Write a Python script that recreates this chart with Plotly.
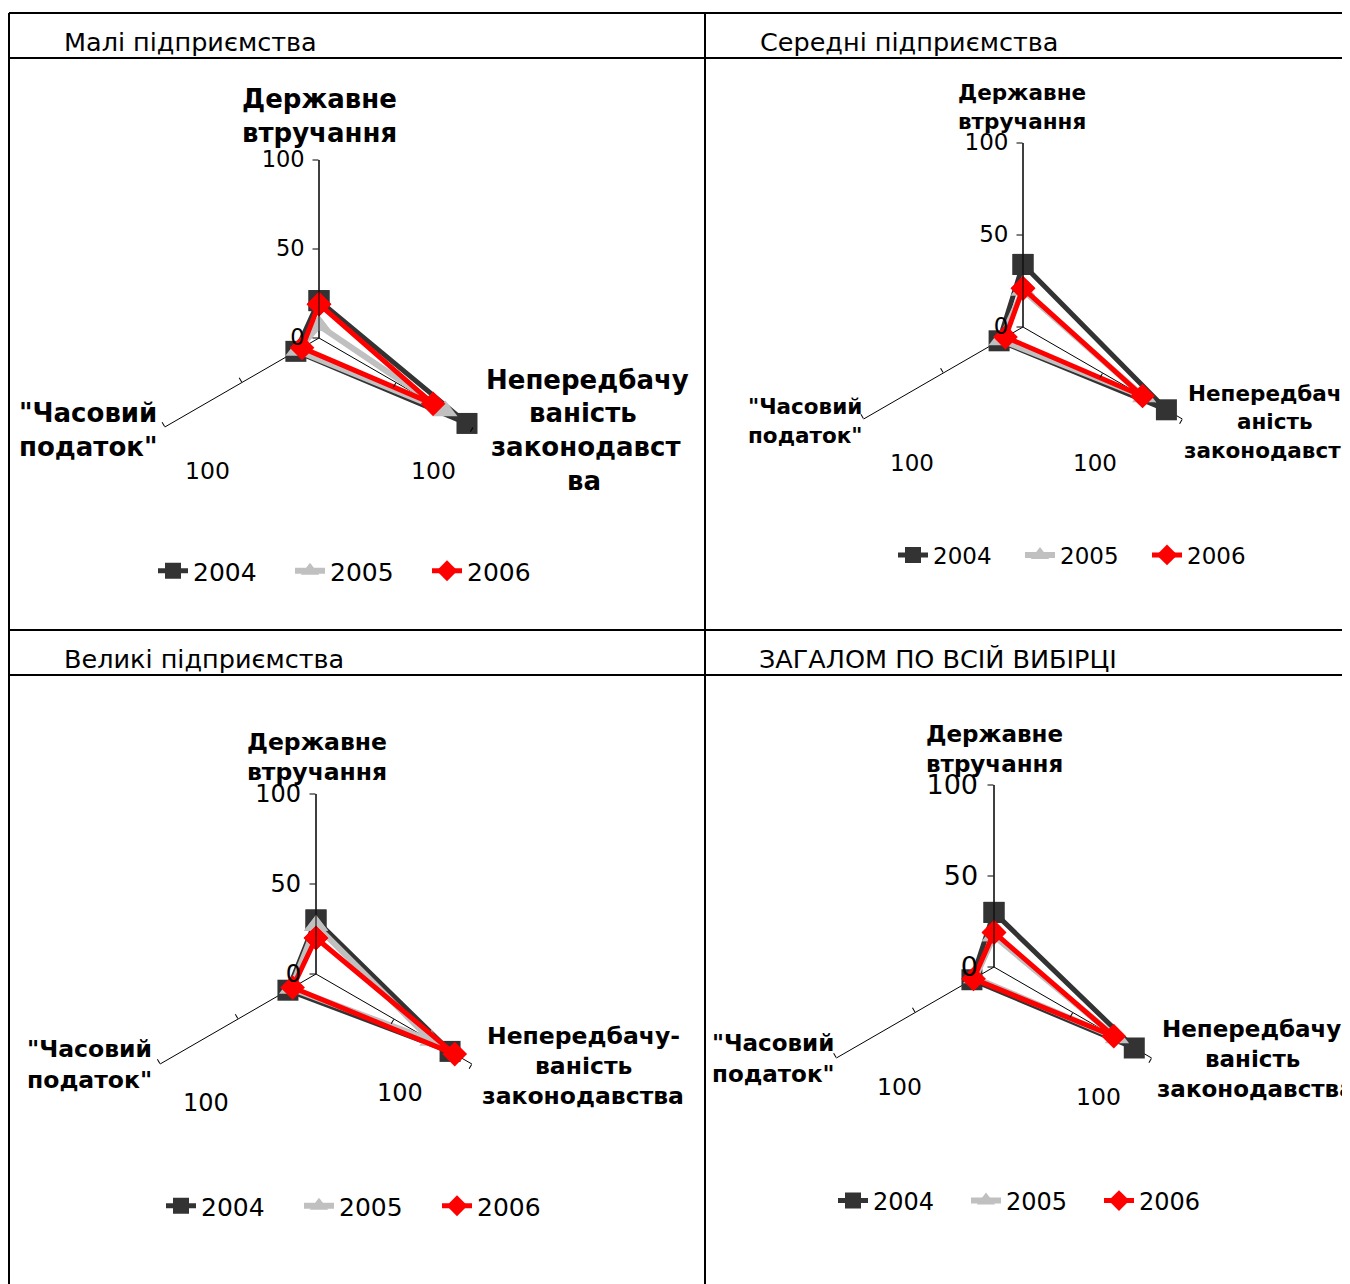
import plotly.graph_objects as go

# the page body has an 8px margin, so the figure is sized and positioned to compensate
OFF = 8
W, H = 1350 - OFF, 1284 - OFF
FONT = "DejaVu Sans"

# ---------------- data ----------------
categories = ["Державне втручання", "Непередбачуваність законодавства", "\"Часовий податок\""]
years = ["2004", "2005", "2006"]
panel_titles = ["Малі підприємства", "Середні підприємства", "Великі підприємства", "ЗАГАЛОМ ПО ВСІЙ ВИБІРЦІ"]

small_2004 = [21, 96, 15]
small_2005 = [7, 82, 14]
small_2006 = [19, 74, 11]

medium_2004 = [34, 90, 15]
medium_2005 = [20, 76, 14]
medium_2006 = [21, 75, 11]

large_2004 = [30, 86, 18]
large_2005 = [27, 74, 16]
large_2006 = [20, 89, 15]

total_2004 = [30, 89, 14]
total_2005 = [17, 78, 12]
total_2006 = [19, 76, 13]

radial_ticks = [0, 50, 100]
radial_ticktext = ["0", "50", "100"]

# ---------------- styles ----------------
series_style = [
    dict(color="#333333", symbol="square", size=21, width=5),
    dict(color="#C0C0C0", symbol="triangle-up", size=21, width=6),
    dict(color="#FF0000", symbol="diamond", size=19, width=5),
]


def X(p):
    return (p - OFF) / W


def Y(p):
    return 1 - (p - OFF) / H


panels = [
    dict(data=[small_2004, small_2005, small_2006], cx=319, cy=338, r=178, tick=22.5, lab=26,
         leg=(153, 571), entry=92, legsize=25, hsize=23.5,
         top=[("Державне", 319, 99), ("втручання", 319, 133)],
         left=[("\"Часовий", 88, 413), ("податок\"", 88, 447)],
         right=[("Непередбачу", 484, 380, "left"), ("ваність", 583, 413, "center"),
                ("законодавст", 489, 447, "left"), ("ва", 584, 481, "center")],
         hund=[(207, 471), (433, 471)]),
    dict(data=[medium_2004, medium_2005, medium_2006], cx=1023, cy=327, r=184, tick=23, lab=21.5,
         leg=(893, 555), entry=82, legsize=23, hsize=23,
         top=[("Державне", 1022, 93), ("втручання", 1022, 122)],
         left=[("\"Часовий", 805, 406), ("податок\"", 805, 435)],
         right=[("Непередбачув", 1186, 393, "left"), ("аність", 1275, 422, "center"),
                ("законодавства", 1182, 451, "left")],
         hund=[(912, 463), (1095, 463)]),
    dict(data=[large_2004, large_2005, large_2006], cx=316, cy=974, r=180, tick=24, lab=23.5,
         leg=(161, 1206), entry=93, legsize=25, hsize=24,
         top=[("Державне", 317, 742), ("втручання", 317, 772)],
         left=[("\"Часовий", 89, 1049), ("податок\"", 89, 1080)],
         right=[("Непередбачу-", 583, 1036, "center"), ("ваність", 583, 1066, "center"),
                ("законодавства", 583, 1096, "center")],
         hund=[(206, 1103), (400, 1093)]),
    dict(data=[total_2004, total_2005, total_2006], cx=994, cy=967, r=182, tick=27, lab=23,
         leg=(833, 1201), entry=88, legsize=24, hsize=23.5,
         top=[("Державне", 994, 734), ("втручання", 994, 764)],
         left=[("\"Часовий", 773, 1043), ("податок\"", 773, 1074)],
         right=[("Непередбачу-", 1160, 1029, "left"), ("ваність", 1252, 1059, "center"),
                ("законодавства", 1155, 1089, "left")],
         hund=[(899, 1087), (1098, 1097)]),
]

title_pos = [(62, 42), (758, 42), (62, 659), (757, 659)]

fig = go.Figure()
layout = dict(width=W, height=H, margin=dict(l=0, r=0, t=0, b=0),
              paper_bgcolor="white", plot_bgcolor="white",
              font=dict(family=FONT, color="black"), template="none")

annotations = []
shapes = []

for i, p in enumerate(panels):
    pid = "polar" if i == 0 else f"polar{i+1}"
    lid = "legend" if i == 0 else f"legend{i+1}"
    dom = dict(x=[X(p["cx"] - p["r"]), X(p["cx"] + p["r"])],
               y=[Y(p["cy"] + p["r"]), Y(p["cy"] - p["r"])])
    for yr, vals, st in zip(years, p["data"], series_style):
        fig.add_trace(go.Scatterpolar(
            r=vals + [vals[0]], theta=categories + [categories[0]],
            mode="lines+markers", name=yr, subplot=pid, legend=lid,
            line=dict(color=st["color"], width=st["width"]),
            marker=dict(symbol=st["symbol"], size=st["size"], color=st["color"],
                        line=dict(width=0)),
            hoverinfo="skip"))
    layout[pid] = dict(
        domain=dom, bgcolor="white", gridshape="linear",
        radialaxis=dict(range=[0, 100], angle=90, tickvals=radial_ticks, ticktext=radial_ticktext,
                        showline=True, linecolor="black", linewidth=1, showgrid=False,
                        ticks="outside", ticklen=6, tickcolor="black", tickwidth=1,
                        side="counterclockwise", tickangle=90,
                        tickfont=dict(size=p["tick"], family=FONT, color="black")),
        angularaxis=dict(categoryarray=categories, categoryorder="array", rotation=90,
                         direction="clockwise", showline=False, showticklabels=False, ticks="",
                         showgrid=True, gridcolor="black", gridwidth=1))
    layout[lid] = dict(orientation="h", x=X(p["leg"][0]), y=Y(p["leg"][1]), xanchor="left", yanchor="middle",
                       font=dict(size=p["legsize"], family=FONT, color="black"), bgcolor="rgba(0,0,0,0)",
                       itemwidth=30, tracegroupgap=0, entrywidth=p["entry"], entrywidthmode="pixels")

    # overlay polars for small tick marks on the two lower spokes
    for k, ang in enumerate([-30, 210]):
        oid = f"polar{5 + 2 * i + k}"
        fig.add_trace(go.Scatterpolar(r=[], theta=[], subplot=oid, showlegend=False, hoverinfo="skip"))
        layout[oid] = dict(
            domain=dom, bgcolor="rgba(0,0,0,0)", gridshape="linear",
            radialaxis=dict(range=[0, 100], angle=ang, tickvals=[50, 100], showticklabels=False,
                            showline=False, showgrid=False, ticks="outside", ticklen=5,
                            tickcolor="black", tickwidth=1),
            angularaxis=dict(visible=False, rotation=90, direction="clockwise"))

    for txt, x, y in p["top"] + p["left"]:
        annotations.append(dict(text=f"<b>{txt}</b>", x=X(x), y=Y(y), xref="paper", yref="paper",
                                xanchor="center", yanchor="middle", showarrow=False,
                                font=dict(size=p["lab"], family=FONT, color="black")))
    for txt, x, y, anc in p["right"]:
        annotations.append(dict(text=f"<b>{txt}</b>", x=X(x), y=Y(y), xref="paper", yref="paper",
                                xanchor=anc, yanchor="middle", showarrow=False,
                                font=dict(size=p["lab"], family=FONT, color="black")))
    for x, y in p["hund"]:
        annotations.append(dict(text="100", x=X(x), y=Y(y), xref="paper", yref="paper",
                                xanchor="center", yanchor="middle", showarrow=False,
                                font=dict(size=p["hsize"], family=FONT, color="black")))
    tx, ty = title_pos[i]
    annotations.append(dict(text=panel_titles[i], x=X(tx), y=Y(ty), xref="paper", yref="paper",
                            xanchor="left", yanchor="middle", showarrow=False,
                            font=dict(size=25.5, family=FONT, color="black")))

# table frame
for y in [13, 58, 630, 675]:
    shapes.append(dict(type="line", xref="paper", yref="paper", x0=X(9), x1=X(1350), y0=Y(y), y1=Y(y),
                       line=dict(color="black", width=2)))
for x in [9, 705]:
    shapes.append(dict(type="line", xref="paper", yref="paper", x0=X(x), x1=X(x), y0=Y(13), y1=Y(1284),
                       line=dict(color="black", width=2)))

layout["annotations"] = annotations
layout["shapes"] = shapes
fig.update_layout(**layout)
fig.write_html("out.html")
